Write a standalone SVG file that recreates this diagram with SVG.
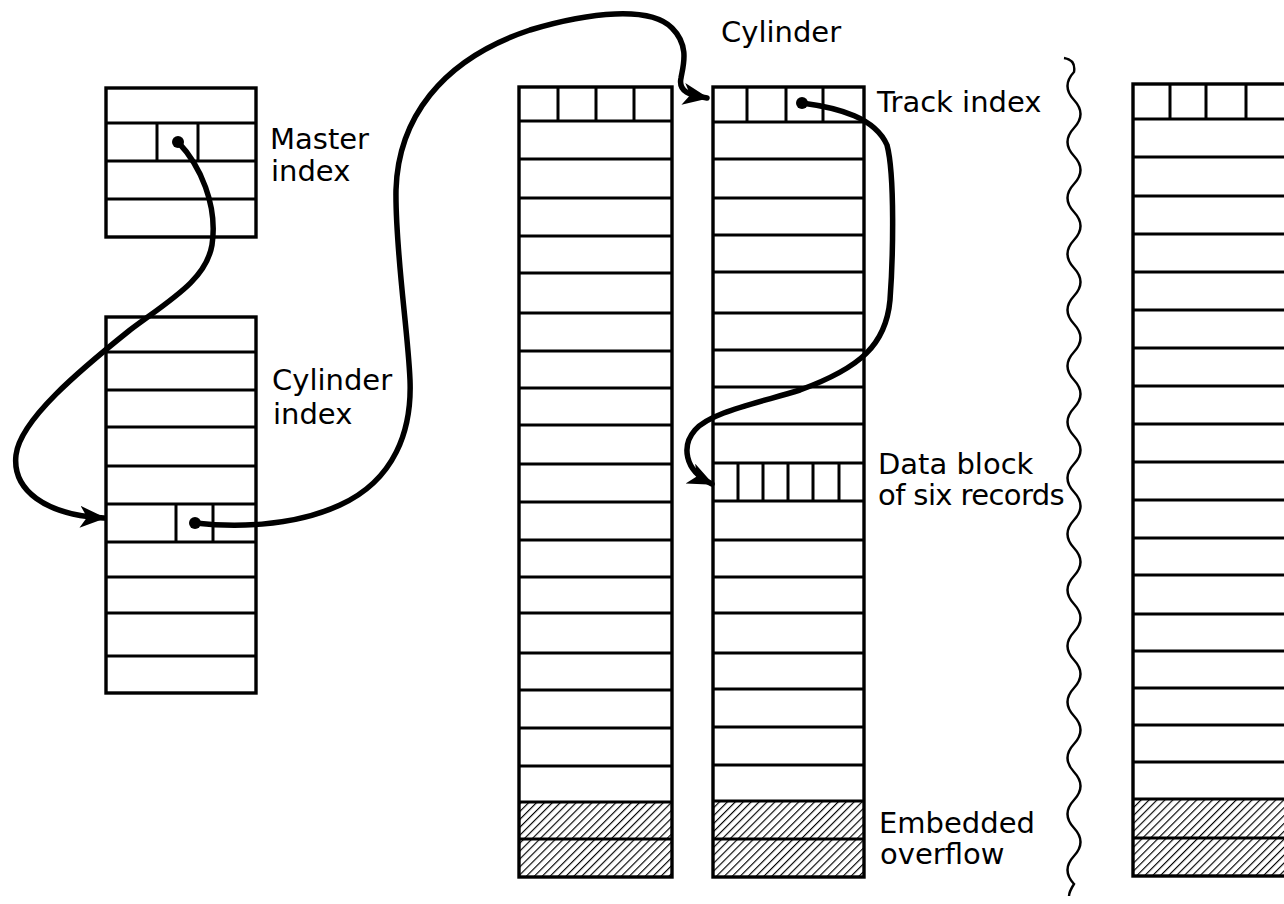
<svg xmlns="http://www.w3.org/2000/svg" width="1284" height="904" viewBox="0 0 1284 904">
<style>
.box{fill:none;stroke:#000;stroke-width:3.4}
.ln{stroke:#000;stroke-width:3;fill:none}
.lbl{font-family:"DejaVu Sans","Liberation Sans",sans-serif;font-size:29px;fill:#000}
.conn{fill:none;stroke:#000;stroke-width:5.5;stroke-linecap:round}
.hatch{fill:url(#hatch);stroke:none}
.wave{fill:none;stroke:#000;stroke-width:2.4}
</style>
<defs>
<pattern id="hatch" patternUnits="userSpaceOnUse" width="5.6" height="5.6" patternTransform="rotate(45)">
<line x1="0" y1="0" x2="0" y2="5.6" stroke="#000" stroke-width="2.3"/>
</pattern>
<marker id="arr" markerUnits="userSpaceOnUse" markerWidth="28" markerHeight="24" refX="24" refY="11" orient="auto">
<path d="M0,0 L26,11 L0,22 L7,11 z" fill="#000"/>
</marker>
</defs>
<rect width="1284" height="904" fill="#fff"/>

<g id="master-index">
<rect class="box" x="106" y="88" width="150" height="149"/>
<path class="ln" d="M106,123H256M106,161H256M106,199H256M157,123V161M198,123V161"/>
</g>

<g id="cylinder-index">
<rect class="box" x="106" y="317" width="150" height="376"/>
<path class="ln" d="M106,352H256M106,390H256M106,427H256M106,466H256M106,504H256M106,542H256M106,577H256M106,613H256M106,656H256M176,504V542M213,504V542"/>
</g>

<g id="cylinder-1">
<rect class="hatch" x="519" y="802" width="153" height="75"/>
<rect class="box" x="519" y="87" width="153" height="790"/>
<path class="ln" d="M519,121H672M519,159H672M519,198H672M519,236H672M519,273H672M519,313H672M519,351H672M519,388H672M519,425H672M519,464H672M519,502H672M519,540H672M519,577H672M519,613H672M519,653H672M519,690H672M519,728H672M519,766H672M519,802H672M519,839H672M558,87V121M596,87V121M634,87V121"/>
</g>

<g id="cylinder-2">
<rect class="hatch" x="713" y="801" width="151" height="76"/>
<rect class="box" x="713" y="87" width="151" height="790"/>
<path class="ln" d="M713,122H864M713,159H864M713,198H864M713,235H864M713,272H864M713,313H864M713,350H864M713,387H864M713,424H864M713,463H864M713,501H864M713,540H864M713,577H864M713,613H864M713,653H864M713,689H864M713,727H864M713,765H864M713,801H864M713,839H864M747,87V122M786,87V122M823,87V122M738,463V501M763,463V501M788,463V501M813,463V501M839,463V501"/>
</g>

<g id="cylinder-n">
<rect class="hatch" x="1133" y="799" width="170" height="77"/>
<rect class="box" x="1133" y="84" width="170" height="792"/>
<path class="ln" d="M1133,119H1303M1133,157H1303M1133,196H1303M1133,234H1303M1133,272H1303M1133,310H1303M1133,348H1303M1133,386H1303M1133,424H1303M1133,462H1303M1133,500H1303M1133,538H1303M1133,575H1303M1133,614H1303M1133,651H1303M1133,688H1303M1133,725H1303M1133,762H1303M1133,799H1303M1133,838H1303M1170,84V119M1206,84V119M1246,84V119"/>
</g>

<g id="divider">
<path class="wave" d="M1064,58 q12,2 10,14 q-13,14 0,28 t0,28 t0,28 t0,28 t0,28 t0,28 t0,28 t0,28 t0,28 t0,28 t0,28 t0,28 t0,28 t0,28 t0,28 t0,28 t0,28 t0,28 t0,28 t0,28 t0,28 t0,28 t0,28 t0,28 t0,28 t0,28 t0,28 t0,28 t0,28 q-5,8 -5,12"/>
</g>

<g id="labels">
<text class="lbl" x="270" y="149">Master</text>
<text class="lbl" x="271" y="181">index</text>
<text class="lbl" x="272" y="390">Cylinder</text>
<text class="lbl" x="273" y="424">index</text>
<text class="lbl" x="721" y="42">Cylinder</text>
<text class="lbl" x="877" y="112">Track index</text>
<text class="lbl" x="878" y="474">Data block</text>
<text class="lbl" x="878" y="505" letter-spacing="-0.6">of six records</text>
<text class="lbl" x="879" y="833">Embedded</text>
<text class="lbl" x="880" y="864">overflow</text>
</g>

<g id="connectors">
<circle cx="178" cy="142" r="6" fill="#000"/>
<circle cx="195" cy="523" r="6" fill="#000"/>
<circle cx="802" cy="103" r="6" fill="#000"/>
<path class="conn" marker-end="url(#arr)" d="M178,142 C200,165 218,205 212,245 C206,280 170,300 130,330 C80,370 20,420 16,455 C12,490 45,515 104,518"/>
<path class="conn" marker-end="url(#arr)" d="M195,523 C230,527 290,528 340,505 C395,480 412,430 410,380 C408,330 395,250 396,190 C398,120 440,60 530,30 C590,12 650,6 672,28 C690,46 683,66 681,78 C678,92 690,95 707,98"/>
<path class="conn" marker-end="url(#arr)" d="M802,103 C840,108 875,118 887,145 C895,175 893,260 890,300 C886,345 860,368 800,390 C750,405 710,413 695,430 C682,445 683,470 712,484"/>
</g>
</svg>
